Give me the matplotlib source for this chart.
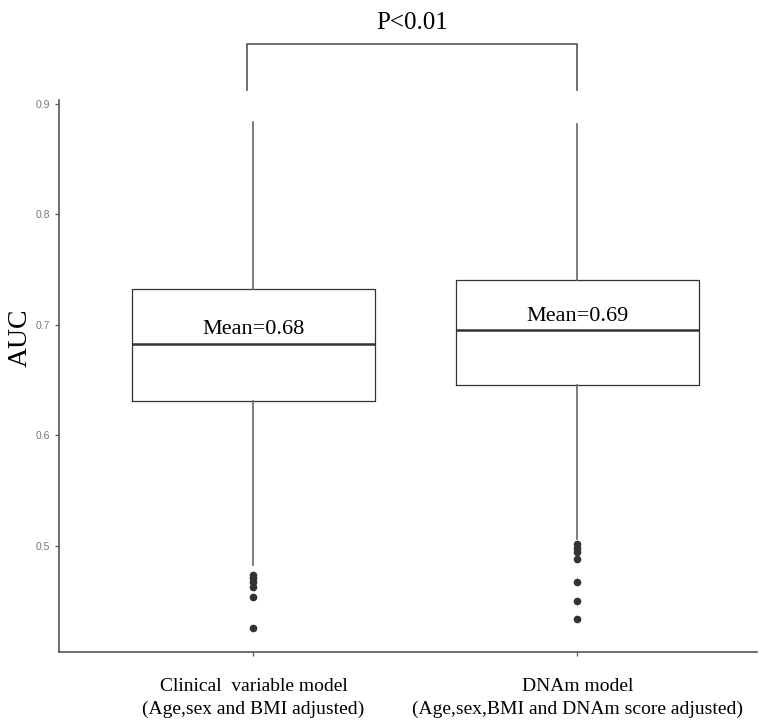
import matplotlib
matplotlib.use("Agg")
import matplotlib.pyplot as plt

# values
models = ["Clinical  variable model\n(Age,sex and BMI adjusted)",
          "DNAm model\n(Age,sex,BMI and DNAm score adjusted)"]
q1 = [0.631, 0.645]
median = [0.683, 0.695]
q3 = [0.732, 0.741]
whisker_low = [0.482, 0.506]
whisker_high = [0.884, 0.882]
outliers = [
    [0.4736, 0.4709, 0.4673, 0.4627, 0.4536, 0.4255],
    [0.501, 0.498, 0.4945, 0.488, 0.467, 0.450, 0.4336],
]
mean_labels = ["Mean=0.68", "Mean=0.69"]
p_label = "P<0.01"

serif = ["Liberation Serif", "DejaVu Serif"]
sans = ["Liberation Sans", "DejaVu Sans"]

fig = plt.figure(figsize=(7.71, 7.2), dpi=100)
ax = fig.add_axes([59 / 771, 1 - 652 / 720, 698 / 771, 552 / 720])

stats = []
for i in range(len(models)):
    stats.append(dict(med=median[i], q1=q1[i], q3=q3[i],
                      whislo=whisker_low[i], whishi=whisker_high[i],
                      fliers=outliers[i]))

ax.bxp(stats, positions=[1, 2], widths=0.75, showcaps=False,
       boxprops=dict(color="#333333", linewidth=0.9),
       whiskerprops=dict(color="#666666", linewidth=1.2),
       medianprops=dict(color="#333333", linewidth=1.8),
       flierprops=dict(marker="o", markerfacecolor="#333333",
                       markeredgecolor="#333333", markersize=4.5))

ax.set_xlim(0.4, 0.4 + 698 / 324)
ax.set_ylim(0.4036, 0.9036)
ax.set_yticks([0.5, 0.6, 0.7, 0.8, 0.9])
ax.set_yticklabels(["0.5", "0.6", "0.7", "0.8", "0.9"],
                   family=sans, fontsize=7.5, color="#777777")
ax.set_xticks([1, 2])
ax.set_xticklabels(models, family=serif, fontsize=14, color="black",
                   linespacing=1.4)
ax.tick_params(axis="both", length=3, color="#555555", width=0.9)
ax.tick_params(axis="x", pad=16)
ax.set_ylabel("AUC", family=serif, fontsize=20)
ax.yaxis.set_label_coords(-0.037, 0.57)

for side in ["top", "right"]:
    ax.spines[side].set_visible(False)
for side in ["left", "bottom"]:
    ax.spines[side].set_color("#555555")
    ax.spines[side].set_linewidth(1.2)

# mean annotations above the medians
for i, txt in enumerate(mean_labels):
    ax.text(i + 1, median[i] + 0.004, txt, ha="center", va="bottom",
            family=serif, fontsize=16)

# significance bracket
ax.plot([0.98, 0.98, 2.0, 2.0], [0.9127, 0.9545, 0.9545, 0.9127],
        color="#555555", linewidth=1.2, clip_on=False)
ax.text(1.49, 0.963, p_label, ha="center", va="bottom",
        family=serif, fontsize=18)

fig.savefig("out.png", dpi=100)
